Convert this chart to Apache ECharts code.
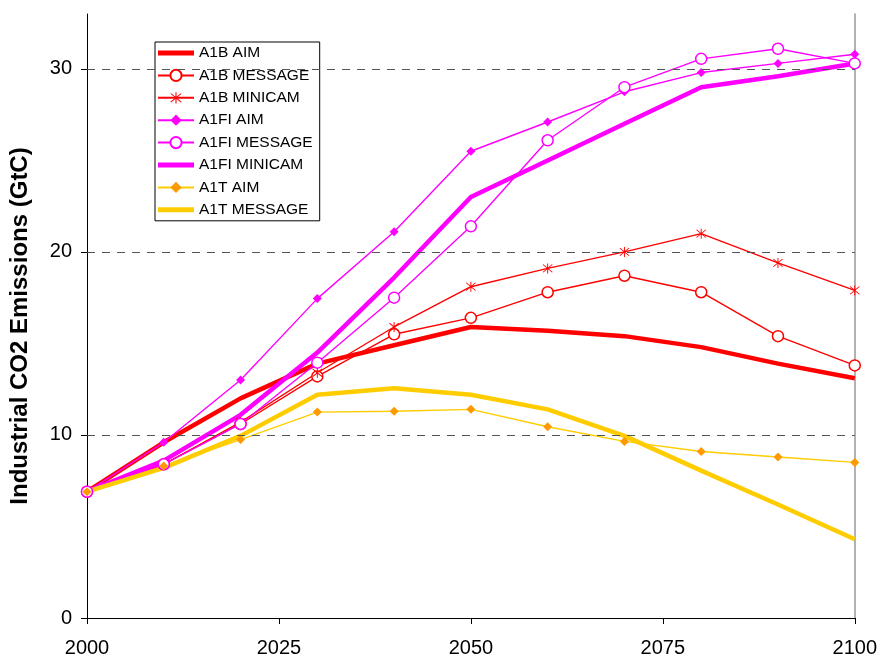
<!DOCTYPE html>
<html>
<head>
<meta charset="utf-8">
<script src="https://cdn.jsdelivr.net/npm/echarts@6/dist/echarts.min.js"></script>
<style>html,body{margin:0;padding:0;background:#fff}#c{width:880px;height:660px}</style>
</head>
<body>
<div id="c"></div>
<script>
const years = [2000, 2010, 2020, 2030, 2040, 2050, 2060, 2070, 2080, 2090, 2100];
const a1bAim      = [6.9, 9.6, 12.0, 13.9, 14.9, 15.9, 15.7, 15.4, 14.8, 13.9, 13.1];
const a1bMessage  = [6.9, 8.4, 10.6, 13.2, 15.5, 16.4, 17.8, 18.7, 17.8, 15.4, 13.8];
const a1bMinicam  = [6.9, 8.4, 10.7, 13.4, 15.9, 18.1, 19.1, 20.0, 21.0, 19.4, 17.9];
const a1fiAim     = [6.9, 9.6, 13.0, 17.45, 21.1, 25.5, 27.1, 28.75, 29.8, 30.3, 30.8];
const a1fiMessage = [6.9, 8.4, 10.6, 13.95, 17.5, 21.4, 26.1, 29.0, 30.55, 31.1, 30.3];
const a1fiMinicam = [6.9, 8.6, 11.1, 14.5, 18.6, 23.0, 25.0, 27.0, 29.0, 29.6, 30.3];
const a1tAim      = [6.9, 8.3, 9.75, 11.25, 11.3, 11.4, 10.45, 9.65, 9.1, 8.8, 8.5];
const a1tMessage  = [6.9, 8.2, 9.95, 12.2, 12.55, 12.2, 11.4, 9.95, 8.05, 6.2, 4.3];
const xTicks = [2000, 2025, 2050, 2075, 2100];
const yTicks = [0, 10, 20, 30];
const gridValues = [10, 20, 30];

const FONT = '"Liberation Sans", Arial, sans-serif';
const RED = '#FF0000', MAG = '#FF00FF', YEL = '#FFCC00', ORG = '#FF9900';
const ASTERISK = 'path://M9.2 0L10.8 0L10.8 20L9.2 20Z M1.7 2.8L2.8 1.7L18.3 17.2L17.2 18.3Z M17.2 1.7L18.3 2.8L2.8 18.3L1.7 17.2Z';
const THICK_ICON = 'path://M0 0L36 0L36 5L0 5Z';

function pts(vals) { return years.map((y, i) => [y, vals[i]]); }

function thick(name, vals, color) {
  return { name, type: 'line', data: pts(vals), symbol: 'none', showSymbol: false,
    lineStyle: { color, width: 4.5 }, itemStyle: { color }, z: 3, animation: false };
}
function thin(name, vals, color, symbol, size, itemStyle) {
  return { name, type: 'line', data: pts(vals), symbol, symbolSize: size, showSymbol: true,
    lineStyle: { color, width: 1.4 }, itemStyle, z: 3, animation: false };
}

const series = [
  { name: '_grid', type: 'line', data: [], z: 1, silent: true, animation: false,
    markLine: { silent: true, symbol: ['none', 'none'], label: { show: false }, animation: false,
      lineStyle: { color: '#555', width: 1, type: [8, 7] },
      data: gridValues.map(v => ({ yAxis: v })) } },
  thick('A1B AIM', a1bAim, RED),
  thin('A1B MESSAGE', a1bMessage, RED, 'circle', 11, { color: '#fff', borderColor: RED, borderWidth: 1.5 }),
  thin('A1B MINICAM', a1bMinicam, RED, ASTERISK, 10, { color: RED, borderWidth: 0 }),
  thin('A1FI AIM', a1fiAim, MAG, 'diamond', 9, { color: MAG, borderWidth: 0 }),
  thin('A1FI MESSAGE', a1fiMessage, MAG, 'circle', 11, { color: '#fff', borderColor: MAG, borderWidth: 1.5 }),
  thick('A1FI MINICAM', a1fiMinicam, MAG),
  thin('A1T AIM', a1tAim, YEL, 'diamond', 9, { color: ORG, borderWidth: 0 }),
  thick('A1T MESSAGE', a1tMessage, YEL)
];

const chart = echarts.init(document.getElementById('c'), null, { renderer: 'canvas' });
chart.setOption({
  backgroundColor: '#fff',
  animation: false,
  textStyle: { fontFamily: FONT },
  grid: { left: 84, right: 25, top: 14, bottom: 42, containLabel: false },
  legend: {
    data: [
      { name: 'A1B AIM', icon: THICK_ICON },
      'A1B MESSAGE', 'A1B MINICAM', 'A1FI AIM', 'A1FI MESSAGE',
      { name: 'A1FI MINICAM', icon: THICK_ICON },
      'A1T AIM',
      { name: 'A1T MESSAGE', icon: THICK_ICON }
    ],
    orient: 'vertical', left: 155, top: 42,
    itemWidth: 36, itemHeight: 14, itemGap: 6.4,
    padding: [3, 7, 3, 2],
    backgroundColor: '#fff', borderColor: '#000', borderWidth: 1, borderRadius: 0,
    textStyle: { fontFamily: FONT, fontSize: 15.5, color: '#000' },
    selectedMode: false
  },
  xAxis: {
    type: 'value', min: 2000, max: 2100, interval: 25,
    axisLine: { show: true, lineStyle: { color: '#000', width: 1 } },
    axisTick: { show: true, length: 6, inside: false, lineStyle: { color: '#000' } },
    axisLabel: { fontFamily: FONT, fontSize: 20, color: '#000', margin: 20,
      formatter: v => xTicks.includes(v) ? String(v) : '' },
    splitLine: { show: false }
  },
  yAxis: [{
    type: 'value', min: 0, max: 33, interval: 10,
    name: 'Industrial CO2 Emissions (GtC)', nameLocation: 'middle', nameGap: 55,
    nameTextStyle: { fontFamily: FONT, fontSize: 24, fontWeight: 'bold', color: '#000', padding: [0, 20, 0, 0] },
    axisLine: { show: true, lineStyle: { color: '#000', width: 1 } },
    axisTick: { show: true, length: 6, lineStyle: { color: '#000' }, customValues: yTicks },
    axisLabel: { fontFamily: FONT, fontSize: 20, color: '#000', margin: 15,
      formatter: v => yTicks.includes(v) ? String(v) : '' },
    splitLine: { show: false }
  }, {
    type: 'value', min: 0, max: 33, position: 'right',
    axisLine: { show: true, lineStyle: { color: '#999', width: 1.5 } },
    axisTick: { show: false }, axisLabel: { show: false }, splitLine: { show: false }
  }],
  series
});
</script>
</body>
</html>
